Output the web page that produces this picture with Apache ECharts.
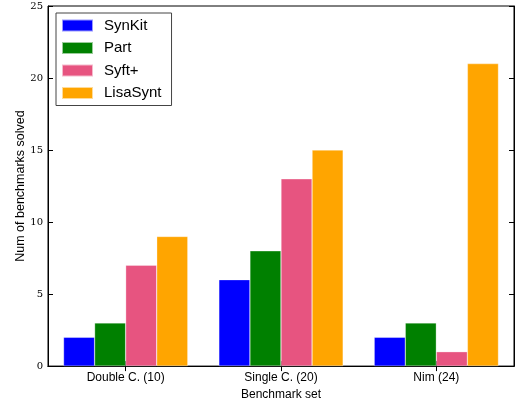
<!DOCTYPE html>
<html><head><meta charset="utf-8">
<script src="https://cdn.jsdelivr.net/npm/echarts@6/dist/echarts.min.js"></script>
<style>html,body{margin:0;padding:0;background:#fff}#c{width:515px;height:406px}</style>
</head><body><div id="c"></div>
<script>
const categories = ['Double C. (10)', 'Single C. (20)', 'Nim (24)'];
const synkit = [2, 6, 2];
const part = [3, 8, 3];
const syft = [7, 13, 1];
const lisasynt = [9, 15, 21];
const yTicks = [0, 5, 10, 15, 20, 25];

const chart = echarts.init(document.getElementById('c'));
const serif = 'DejaVu Serif';
const sans = 'Liberation Sans';
const tickIn = {show: true, inside: true, length: 5, lineStyle: {color: '#000', width: 1}};
function bar(name, data, color) {
  return {name, type: 'bar', data, barGap: '0%', barCategoryGap: '20%',
    itemStyle: {color, borderColor: 'rgba(255,255,255,0.6)', borderWidth: 0.5}};
}
chart.setOption({
  animation: false,
  grid: {left: 48, right: 1, top: 6, bottom: 38, show: true, borderColor: '#000', borderWidth: 1},
  legend: {
    orient: 'vertical', left: 56, top: 13, padding: [5, 10, 5, 5],
    itemWidth: 31, itemHeight: 12, itemGap: 7.5,
    borderColor: '#444', borderWidth: 1, backgroundColor: '#fff',
    icon: 'rect',
    textStyle: {fontFamily: sans, fontSize: 15, lineHeight: 14, color: '#000', padding: [0, 0, 0, 6]},
    data: ['SynKit', 'Part', 'Syft+', 'LisaSynt']
  },
  xAxis: [{
    type: 'category', data: categories, position: 'bottom',
    axisLine: {lineStyle: {color: '#000'}}, axisTick: Object.assign({alignWithLabel: true}, tickIn),
    axisLabel: {fontFamily: sans, fontSize: 12, color: '#000', margin: 6},
    name: 'Benchmark set', nameLocation: 'middle', nameGap: 22,
    nameTextStyle: {fontFamily: sans, fontSize: 12, color: '#000'}
  }, {
    type: 'category', data: categories, position: 'top',
    axisLine: {lineStyle: {color: '#000'}}, axisTick: Object.assign({alignWithLabel: true}, tickIn),
    axisLabel: {show: false}
  }],
  yAxis: [{
    type: 'value', min: yTicks[0], max: yTicks[yTicks.length - 1], interval: 5,
    axisLine: {show: true, lineStyle: {color: '#000'}}, axisTick: tickIn,
    splitLine: {show: false},
    axisLabel: {fontFamily: serif, fontSize: 10, color: '#000', margin: 5},
    name: 'Num of benchmarks solved', nameLocation: 'middle', nameGap: 21, nameMoveOverlap: false,
    nameTextStyle: {fontFamily: sans, fontSize: 12.5, color: '#000'}
  }, {
    type: 'value', min: yTicks[0], max: yTicks[yTicks.length - 1], interval: 5, position: 'right',
    axisLine: {show: true, lineStyle: {color: '#000'}}, axisTick: tickIn,
    splitLine: {show: false}, axisLabel: {show: false}
  }],
  series: [
    bar('SynKit', synkit, '#0000ff'),
    bar('Part', part, '#008000'),
    bar('Syft+', syft, '#e75480'),
    bar('LisaSynt', lisasynt, '#ffa500')
  ]
});
</script></body></html>
